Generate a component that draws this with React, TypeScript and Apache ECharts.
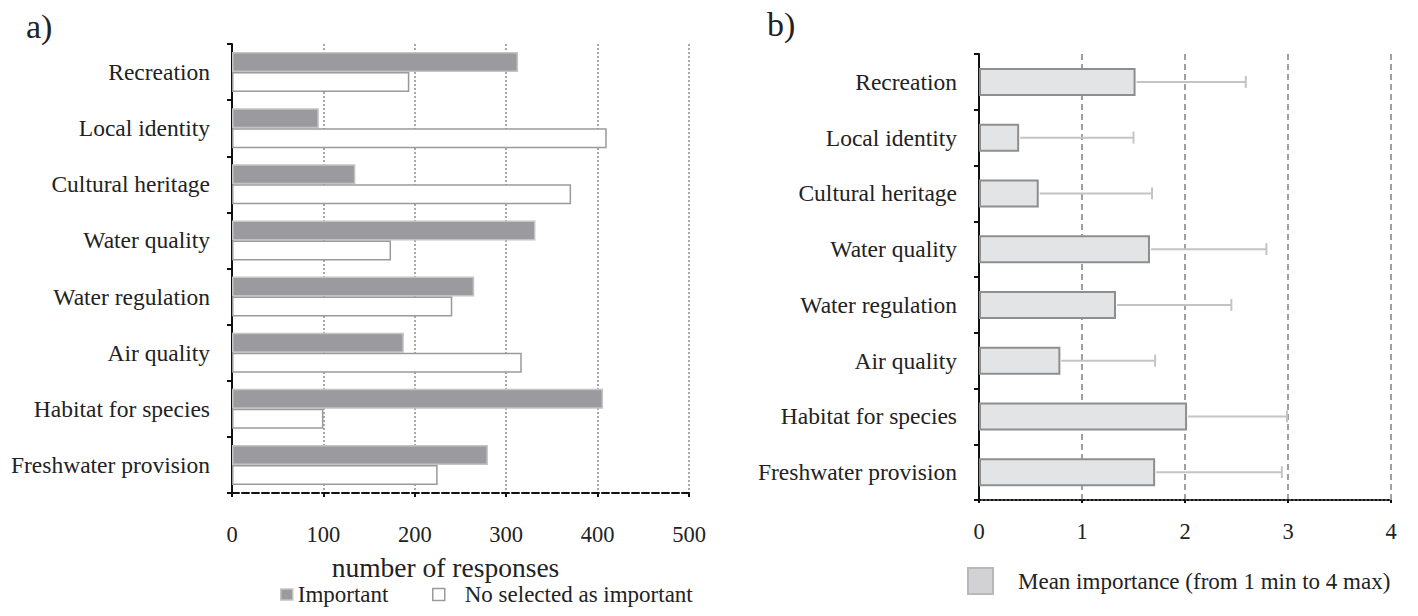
import React, { useEffect, useRef } from "react";
import * as echarts from "echarts";

const categories = [
  "Recreation",
  "Local identity",
  "Cultural heritage",
  "Water quality",
  "Water regulation",
  "Air quality",
  "Habitat for species",
  "Freshwater provision",
];
const importantCounts = [313, 95, 135, 332, 265, 188, 406, 280];
const notSelectedCounts = [194, 410, 371, 174, 241, 317, 100, 225];
const meanImportance = [1.52, 0.39, 0.58, 1.66, 1.33, 0.79, 2.02, 1.71];
const meanUpper = [2.59, 1.5, 1.68, 2.79, 2.45, 1.71, 2.99, 2.94];

const SERIF = "Liberation Serif";
const MEAN_NAME = "Mean importance (from 1 min to 4 max)";

export default function App() {
  const ref = useRef<HTMLDivElement>(null);
  useEffect(() => {
    if (!ref.current) return;
    const chart = echarts.init(ref.current, undefined, { renderer: "svg" });
    const errData = categories.map((_, i) => [i, meanImportance[i], meanUpper[i]]);
    const catAxisCommon = (gridIndex: number) => ({
      type: "category",
      gridIndex,
      data: categories,
      inverse: true,
      axisLine: { show: true, lineStyle: { color: "#111", width: 2 } },
      axisTick: { show: true, length: 5, lineStyle: { color: "#111", width: 2 } },
      axisLabel: { margin: 22, fontSize: 23.5, color: "#222", fontFamily: SERIF },
      splitLine: { show: false },
    });
    chart.setOption({
      animation: false,
      backgroundColor: "#fff",
      textStyle: { fontFamily: SERIF },
      title: [
        { text: "a)", left: 26, top: 9, padding: 0, textStyle: { fontSize: 34, fontWeight: "normal", color: "#222", fontFamily: SERIF } },
        { text: "b)", left: 767, top: 7, padding: 0, textStyle: { fontSize: 34, fontWeight: "normal", color: "#222", fontFamily: SERIF } },
      ],
      grid: [
        { left: 232, right: 729, top: 44, bottom: 123 },
        { left: 979, right: 27, top: 54, bottom: 116 },
      ],
      legend: [
        {
          data: [{ name: "Important", itemStyle: { color: "#9b9b9f", borderColor: "#c4c4c6", borderWidth: 1.5 } }],
          left: 280,
          top: 583,
          padding: 0,
          icon: "rect",
          itemWidth: 12,
          itemHeight: 11,
          selectedMode: false,
          textStyle: { fontSize: 23, color: "#222", fontFamily: SERIF },
        },
        {
          data: [{ name: "No selected as important", itemStyle: { color: "#fff", borderColor: "#9a9a9a", borderWidth: 1.5 } }],
          left: 432,
          top: 583,
          padding: 0,
          icon: "rect",
          itemWidth: 12,
          itemHeight: 12,
          selectedMode: false,
          textStyle: { fontSize: 23, color: "#222", fontFamily: SERIF, padding: [0, 0, 0, 15] },
        },
        {
          data: [{ name: MEAN_NAME, itemStyle: { color: "#d2d2d4", borderColor: "#b8b8ba", borderWidth: 2 } }],
          left: 967,
          top: 567,
          padding: 0,
          icon: "rect",
          itemWidth: 25,
          itemHeight: 26,
          selectedMode: false,
          textStyle: { fontSize: 23, color: "#222", fontFamily: SERIF, padding: [0, 0, 0, 20] },
        },
      ],
      xAxis: [
        {
          type: "value",
          gridIndex: 0,
          min: 0,
          max: 500,
          interval: 100,
          name: "number of responses",
          nameLocation: "middle",
          nameGap: 60,
          nameTextStyle: { fontSize: 27.5, color: "#222", fontFamily: SERIF, padding: [0, 30, 0, 0] },
          axisLine: { show: true, lineStyle: { color: "#111", width: 2, type: [7, 3] } },
          axisTick: { show: true, length: 4, lineStyle: { color: "#111", width: 2 } },
          axisLabel: { margin: 30, fontSize: 22.5, color: "#222", fontFamily: SERIF },
          splitLine: { show: true, lineStyle: { color: "#8c8c8c", width: 1.5, type: [2, 2] } },
        },
        {
          type: "value",
          gridIndex: 1,
          min: 0,
          max: 4,
          interval: 1,
          axisLine: { show: true, lineStyle: { color: "#111", width: 2, type: [2, 2] } },
          axisTick: { show: true, length: 3, lineStyle: { color: "#111", width: 2 } },
          axisLabel: { margin: 20, fontSize: 22.5, color: "#222", fontFamily: SERIF },
          splitLine: { show: true, lineStyle: { color: "#a0a0a0", width: 2, type: [6, 4] } },
        },
      ],
      yAxis: [catAxisCommon(0), catAxisCommon(1)],
      series: [
        {
          name: "Important",
          type: "bar",
          xAxisIndex: 0,
          yAxisIndex: 0,
          data: importantCounts,
          barWidth: 20,
          barGap: "0%",
          itemStyle: { color: "#9b9b9f", borderColor: "#c4c4c6", borderWidth: 1.5 },
        },
        {
          name: "No selected as important",
          type: "bar",
          xAxisIndex: 0,
          yAxisIndex: 0,
          data: notSelectedCounts,
          barWidth: 20,
          barGap: "0%",
          itemStyle: { color: "#fff", borderColor: "#9a9a9a", borderWidth: 1.5 },
        },
        {
          name: MEAN_NAME,
          type: "bar",
          xAxisIndex: 1,
          yAxisIndex: 1,
          data: meanImportance,
          barWidth: 28,
          itemStyle: { color: "#e3e4e6", borderColor: "#8e8e8e", borderWidth: 2 },
        },
        {
          name: "error",
          type: "custom",
          xAxisIndex: 1,
          yAxisIndex: 1,
          data: errData,
          encode: { x: [1, 2], y: 0 },
          z: 5,
          renderItem: (params: any, api: any) => {
            const cat = api.value(0);
            const p0 = api.coord([api.value(1), cat]);
            const p1 = api.coord([api.value(2), cat]);
            const st = { stroke: "#c4c4c4", lineWidth: 2 };
            return {
              type: "group",
              children: [
                { type: "line", shape: { x1: p0[0] + 1, y1: p0[1], x2: p1[0], y2: p1[1] }, style: st },
                { type: "line", shape: { x1: p1[0], y1: p1[1] - 6, x2: p1[0], y2: p1[1] + 6 }, style: st },
              ],
            };
          },
        },
      ],
    });
    return () => chart.dispose();
  }, []);
  return (
    <div
      ref={ref}
      style={{ position: "fixed", left: 0, top: 0, width: 1418, height: 616, background: "#fff", fontFamily: "Liberation Serif" }}
    />
  );
}
